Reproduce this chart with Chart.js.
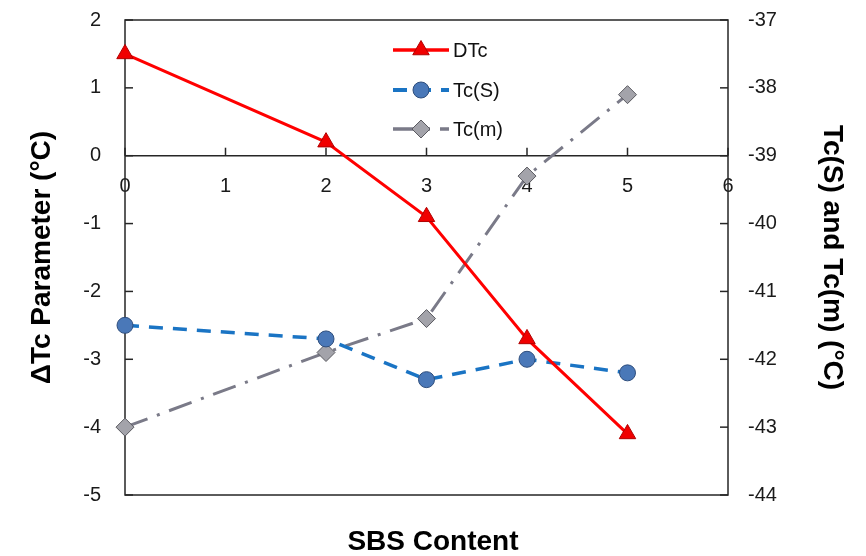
<!DOCTYPE html>
<html>
<head>
<meta charset="utf-8">
<script src="https://cdn.jsdelivr.net/npm/chart.js@4.4.1/dist/chart.umd.min.js"></script>
<style>
  html, body { margin: 0; padding: 0; background: #ffffff; }
  #wrap { width: 866px; height: 556px; }
</style>
</head>
<body>
<div id="wrap"><canvas id="c" width="866" height="556"></canvas></div>
<script>
// ---- data ----
const sbsContent = [0, 2, 3, 4, 5];
const deltaTc    = [1.5, 0.2, -0.9, -2.7, -4.1];      // left axis
const tcS        = [-41.5, -41.7, -42.3, -42.0, -42.2]; // right axis
const tcM        = [-43.0, -41.9, -41.4, -39.3, -38.1]; // right axis
const seriesNames = ['DTc', 'Tc(S)', 'Tc(m)'];
const xTickValues = [0, 1, 2, 3, 4, 5, 6];
const leftTickValues = [-5, -4, -3, -2, -1, 0, 1, 2];
const rightTickValues = [-44, -43, -42, -41, -40, -39, -38, -37];
const xTitle = 'SBS Content';
const leftTitle = 'ΔTc Parameter (°C)';
const rightTitle = 'Tc(S) and Tc(m) (°C)';

const FONT = "'Liberation Sans', Arial, sans-serif";

function pts(xs, ys) { return xs.map((x, i) => ({ x: x, y: ys[i] })); }

const axisPlugin = {
  id: 'axisFrame',
  beforeDatasetsDraw(chart) {
    const { ctx, chartArea: a, scales } = chart;
    ctx.save();
    ctx.strokeStyle = '#262626';
    ctx.lineWidth = 1.5;
    ctx.setLineDash([]);
    ctx.strokeRect(a.left, a.top, a.right - a.left, a.bottom - a.top);
    const y0 = scales.y.getPixelForValue(0);
    const seg = (x1, y1, x2, y2) => { ctx.beginPath(); ctx.moveTo(x1, y1); ctx.lineTo(x2, y2); ctx.stroke(); };
    seg(a.left, y0, a.right, y0);
    leftTickValues.forEach(v => { const p = scales.y.getPixelForValue(v); seg(a.left, p, a.left + 8, p); });
    rightTickValues.forEach(v => { const p = scales.y1.getPixelForValue(v); seg(a.right - 8, p, a.right, p); });
    xTickValues.forEach(v => { const p = scales.x.getPixelForValue(v); seg(p, y0 - 8, p, y0); });
    ctx.restore();
  }
};

function drawMarker(ctx, ds, x, y) {
  const r = ds.pointRadius;
  ctx.save();
  ctx.setLineDash([]);
  ctx.fillStyle = ds.pointBackgroundColor;
  ctx.strokeStyle = ds.pointBorderColor;
  ctx.lineWidth = ds.pointBorderWidth;
  ctx.beginPath();
  if (ds.pointStyle === 'triangle') {
    let rad = 0;
    ctx.moveTo(x + Math.sin(rad) * r, y - Math.cos(rad) * r);
    rad += 2 * Math.PI / 3;
    ctx.lineTo(x + Math.sin(rad) * r, y - Math.cos(rad) * r);
    rad += 2 * Math.PI / 3;
    ctx.lineTo(x + Math.sin(rad) * r, y - Math.cos(rad) * r);
    ctx.closePath();
  } else if (ds.pointStyle === 'rectRot') {
    ctx.moveTo(x, y - r); ctx.lineTo(x + r, y); ctx.lineTo(x, y + r); ctx.lineTo(x - r, y); ctx.closePath();
  } else {
    ctx.arc(x, y, r, 0, Math.PI * 2);
  }
  ctx.fill();
  ctx.stroke();
  ctx.restore();
}

const legendPlugin = {
  id: 'insideLegend',
  afterDatasetsDraw(chart) {
    const ctx = chart.ctx;
    const rowsY = [50, 90, 129];
    const x1 = 393, x2 = 449, tx = 453;
    chart.data.datasets.forEach((ds, i) => {
      const y = rowsY[i];
      ctx.save();
      ctx.strokeStyle = ds.borderColor;
      ctx.lineWidth = ds.borderWidth + 0.5;
      ctx.setLineDash(ds.borderDash || []);
      ctx.beginPath(); ctx.moveTo(x1, y); ctx.lineTo(x2, y); ctx.stroke();
      ctx.restore();
      drawMarker(ctx, ds, (x1 + x2) / 2, y);
      ctx.save();
      ctx.fillStyle = '#111111';
      ctx.font = '20px ' + FONT;
      ctx.textAlign = 'left';
      ctx.textBaseline = 'middle';
      ctx.fillText(ds.label, tx, y + 1);
      ctx.restore();
    });
  }
};

const tickFont = { family: FONT, size: 20 };
const titleFont = { family: FONT, size: 28, weight: 'bold', lineHeight: 1.2 };

new Chart(document.getElementById('c'), {
  type: 'line',
  data: {
    datasets: [
      {
        label: seriesNames[0], data: pts(sbsContent, deltaTc), yAxisID: 'y',
        borderColor: '#ff0000', borderWidth: 3, fill: false, tension: 0,
        pointStyle: 'triangle', pointRadius: 9.5, pointBackgroundColor: '#f00000',
        pointBorderColor: '#b00000', pointBorderWidth: 1, clip: false
      },
      {
        label: seriesNames[1], data: pts(sbsContent, tcS), yAxisID: 'y1',
        borderColor: '#1a74c4', borderWidth: 3.5, borderDash: [14, 10], fill: false, tension: 0,
        pointStyle: 'circle', pointRadius: 8, pointBackgroundColor: '#4a78b8',
        pointBorderColor: '#2e4d7c', pointBorderWidth: 1, clip: false
      },
      {
        label: seriesNames[2], data: pts(sbsContent, tcM), yAxisID: 'y1',
        borderColor: '#7a7a88', borderWidth: 3, borderDash: [24, 10, 3, 10], fill: false, tension: 0,
        pointStyle: 'rectRot', pointRadius: 9, pointBackgroundColor: '#a3a3aa',
        pointBorderColor: '#5a5a60', pointBorderWidth: 1, clip: false
      }
    ]
  },
  options: {
    responsive: false,
    animation: false,
    devicePixelRatio: 1,
    layout: { padding: { top: 20, left: 0, right: 0, bottom: 0 } },
    plugins: {
      legend: { display: false },
      tooltip: { enabled: false },
      title: {
        display: true, position: 'bottom', text: xTitle, color: '#000000',
        font: { family: FONT, size: 28, weight: 'bold', lineHeight: 1 },
        padding: { top: 33, bottom: 0 }
      }
    },
    scales: {
      x: {
        type: 'linear', position: { y: 0 },
        min: xTickValues[0], max: xTickValues[xTickValues.length - 1],
        ticks: { stepSize: 1, padding: 19, font: tickFont, color: '#1a1a1a', maxRotation: 0 },
        grid: { display: false, drawTicks: false },
        border: { display: false }
      },
      y: {
        type: 'linear', position: 'left',
        min: leftTickValues[0], max: leftTickValues[leftTickValues.length - 1],
        ticks: { stepSize: 1, padding: 24, font: tickFont, color: '#1a1a1a' },
        grid: { display: false, drawTicks: false },
        border: { display: false },
        title: { display: true, text: leftTitle, color: '#000000', font: titleFont, padding: { top: 25, bottom: 0 } },
        afterFit(s) { s.width = 125; s.paddingTop = 0; s.paddingBottom = 0; }
      },
      y1: {
        type: 'linear', position: 'right',
        min: rightTickValues[0], max: rightTickValues[rightTickValues.length - 1],
        ticks: { stepSize: 1, padding: 20, font: tickFont, color: '#1a1a1a' },
        grid: { display: false, drawTicks: false },
        border: { display: false },
        title: { display: true, text: rightTitle, color: '#000000', font: titleFont, padding: { top: 17, bottom: 0 } },
        afterFit(s) { s.width = 138; s.paddingTop = 0; s.paddingBottom = 0; }
      }
    }
  },
  plugins: [axisPlugin, legendPlugin]
});
</script>
</body>
</html>
